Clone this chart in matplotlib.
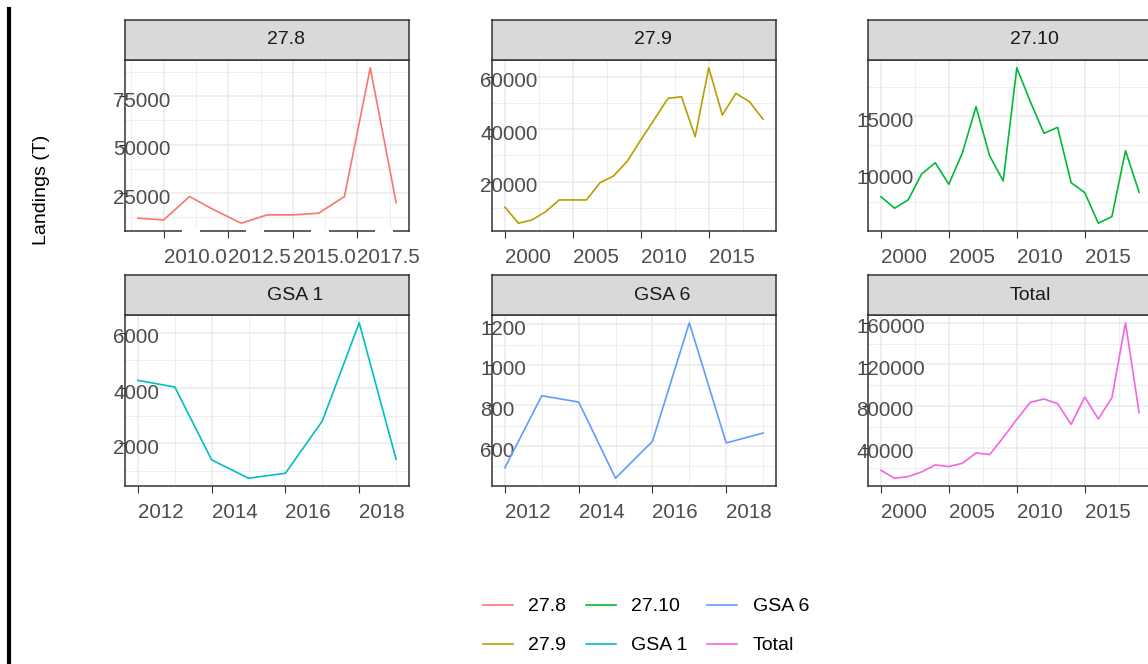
import numpy as np
import matplotlib
matplotlib.use("Agg")
import matplotlib.pyplot as plt
from matplotlib.lines import Line2D
from matplotlib.patches import Rectangle
from matplotlib.transforms import ScaledTranslation

plt.rcParams["font.family"] = ["Liberation Sans", "DejaVu Sans"]

# ---- data ----
years_278 = list(range(2009, 2020))
land_278 = [12050, 11170, 23230, 16000, 9470, 13760, 13760, 14640, 23230, 89650, 20120]

years_279 = list(range(2000, 2020))
land_279 = [10250, 4150, 5410, 8570, 13030, 13030, 13030, 19620, 22170, 27770,
            35890, 43770, 51770, 52380, 37140, 63430, 45410, 53680, 50480, 43770]

years_2710 = list(range(2000, 2020))
land_2710 = [7960, 6950, 7670, 9940, 10920, 9040, 11800, 15810, 11530, 9330,
             19210, 16240, 13490, 14010, 9180, 8310, 5640, 6220, 11970, 8340]

years_gsa1 = list(range(2012, 2020))
land_gsa1 = [4277, 4036, 1398, 735, 916, 2807, 6361, 1422]

years_gsa6 = list(range(2012, 2020))
land_gsa6 = [493, 848, 817, 441, 623, 1208, 615, 664]

years_tot = list(range(2000, 2020))
land_tot = [18240, 10560, 12160, 16640, 23360, 21760, 24960, 34880, 33280, 49600,
            67200, 83520, 86720, 82240, 62400, 88640, 67520, 88000, 160000, 73600]

areas = ["27.8", "27.9", "27.10", "GSA 1", "GSA 6", "Total"]
colours = ["#F8766D", "#B79F00", "#00BA38", "#00BFC4", "#619CFF", "#F564E3"]

xticks_278 = [2010, 2012.5, 2015, 2017.5]
xlabels_278 = ["2010.0", "2012.5", "2015.0", "2017.5"]
xticks_long = [2000, 2005, 2010, 2015]
xticks_gsa = [2012, 2014, 2016, 2018]

yticks = {
    "27.8": [25000, 50000, 75000],
    "27.9": [20000, 40000, 60000],
    "27.10": [10000, 15000],
    "GSA 1": [2000, 4000, 6000],
    "GSA 6": [600, 800, 1000, 1200],
    "Total": [40000, 80000, 120000, 160000],
}

series = [
    (years_278, land_278, xticks_278, xlabels_278),
    (years_279, land_279, xticks_long, [str(v) for v in xticks_long]),
    (years_2710, land_2710, xticks_long, [str(v) for v in xticks_long]),
    (years_gsa1, land_gsa1, xticks_gsa, [str(v) for v in xticks_gsa]),
    (years_gsa6, land_gsa6, xticks_gsa, [str(v) for v in xticks_gsa]),
    (years_tot, land_tot, xticks_long, [str(v) for v in xticks_long]),
]

# ---- figure ----
W, H = 1148, 664
fig = plt.figure(figsize=(W / 100, H / 100), dpi=100)

col_x = [125, 492, 868]
panel_w = 284
row_top = [60, 315]
panel_h = 171
strip_h = 40

dark = "#333333"
grid_c = "#EBEBEB"
tick_c = "#4D4D4D"
tick_fs = 14.8


def expand(vals):
    lo, hi = min(vals), max(vals)
    d = (hi - lo) * 0.05
    return lo - d, hi + d


def midpoints(ticks, lim):
    step = ticks[1] - ticks[0]
    m = [ticks[0] - step / 2] + [t + step / 2 for t in ticks]
    return [v for v in m if lim[0] < v < lim[1]]


down = ScaledTranslation(0, -3 / 100, fig.dpi_scale_trans)

axes = []
for i, (area, col, (xs, ys, xt, xl)) in enumerate(zip(areas, colours, series)):
    r, c = divmod(i, 3)
    left = col_x[c] / W
    bottom = 1 - (row_top[r] + panel_h) / H
    ax = fig.add_axes([left, bottom, panel_w / W, panel_h / H])
    ax.plot(xs, ys, color=col, lw=1.2, zorder=3)

    xlim = expand(xs)
    ylim = expand(ys)
    ax.set_xlim(xlim)
    ax.set_ylim(ylim)

    yt = yticks[area]
    ax.set_xticks(xt)
    ax.set_xticklabels(xl)
    ax.set_yticks(yt)
    ax.set_yticklabels([str(v) for v in yt])
    ax.set_xticks(midpoints(xt, xlim), minor=True)
    ax.set_yticks(midpoints(yt, ylim), minor=True)

    ax.grid(True, which="major", color=grid_c, lw=1.1, zorder=0)
    ax.grid(True, which="minor", color=grid_c, lw=0.6, zorder=0)
    ax.set_axisbelow(True)
    ax.tick_params(which="minor", length=0)
    ax.tick_params(axis="x", which="major", length=5, width=0.8, color=dark,
                   pad=7, labelsize=tick_fs, labelcolor=tick_c)
    ax.tick_params(axis="y", which="major", length=4, width=0.8, color=dark,
                   pad=4.6, labelsize=tick_fs, labelcolor=tick_c)
    for lab in ax.get_xticklabels():
        lab.set_horizontalalignment("left")
    for lab in ax.get_yticklabels():
        lab.set_horizontalalignment("left")
        lab.set_transform(lab.get_transform() + down)
    for sp in ax.spines.values():
        sp.set_color(dark)
        sp.set_linewidth(1.1)

    # facet strip
    sax = fig.add_axes([left, 1 - row_top[r] / H, panel_w / W, strip_h / H])
    sax.set_facecolor("#D9D9D9")
    sax.set_xticks([])
    sax.set_yticks([])
    for sp in sax.spines.values():
        sp.set_color(dark)
        sp.set_linewidth(1.1)
    sax.text(0.5, 0.5, area, ha="left", va="center", fontsize=14,
             color="#1A1A1A", transform=sax.transAxes)
    axes.append(ax)

# white gaps on the 27.8 x axis line
ax0 = axes[0]
for t in xticks_278:
    xd, yd = ax0.transData.transform((t, ax0.get_ylim()[0]))
    fig.add_artist(Rectangle((xd + 18, yd - 3), 18, 5, transform=None,
                             facecolor="white", edgecolor="none", zorder=10))

fig.text(41 / W, 1 - 190 / H, "Landings (T)", rotation=90, ha="center",
         va="center", fontsize=14, color="black")

# black bar at left edge
fig.add_artist(Line2D([9 / W, 9 / W], [0, 1 - 9 / H], color="black", lw=3,
                      transform=fig.transFigure))

handles = [Line2D([], [], color=c, lw=1.2) for c in colours]
fig.legend(handles, areas, ncol=3, loc="center",
           bbox_to_anchor=(646 / W, 1 - 626 / H), frameon=False, fontsize=14,
           handlelength=1.55, handletextpad=0.8, columnspacing=1.0,
           labelspacing=1.1)

fig.savefig("out.png", dpi=100)
